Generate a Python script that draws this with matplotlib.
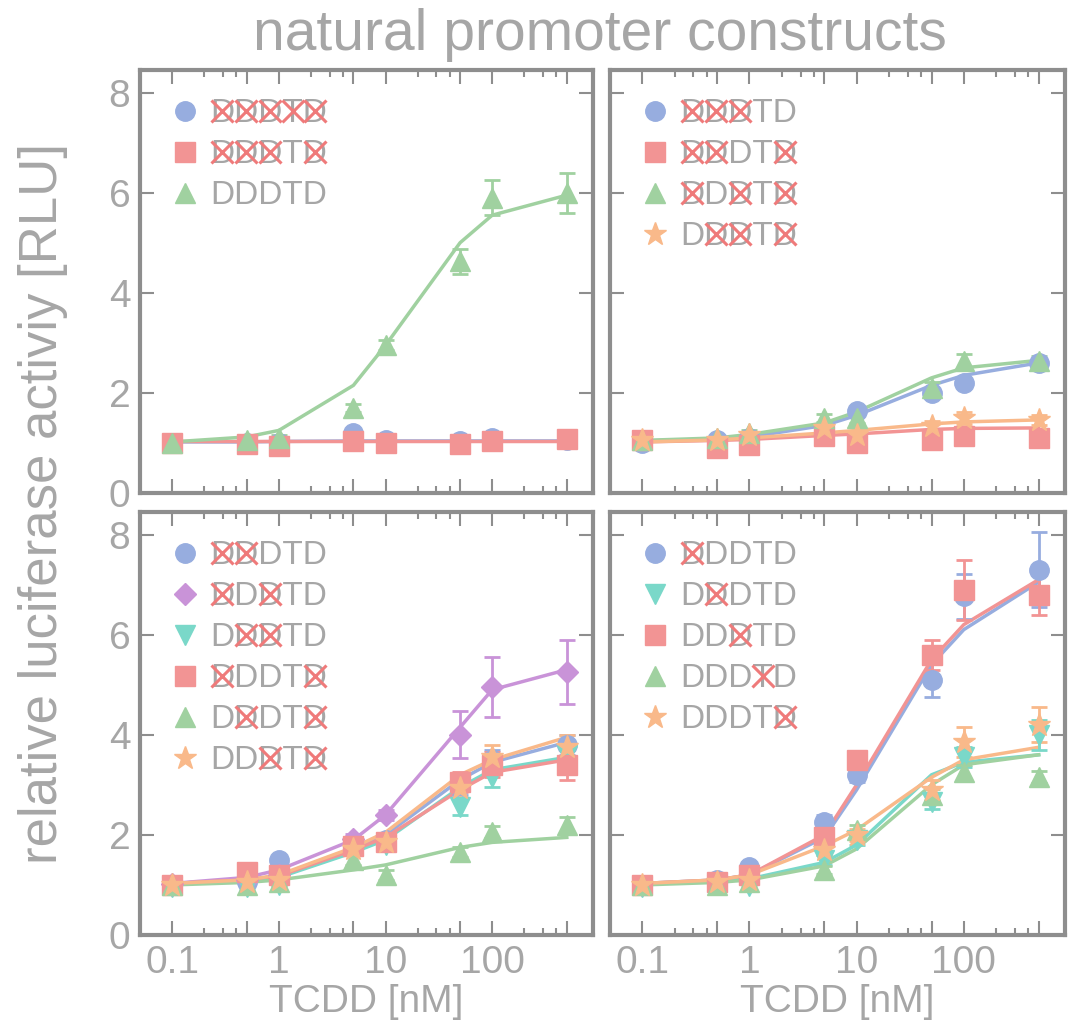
import numpy as np
import matplotlib
matplotlib.use('Agg')
import matplotlib.pyplot as plt
from matplotlib.lines import Line2D

plt.rcParams['font.family'] = ['Liberation Sans', 'DejaVu Sans']

# TCDD concentrations [nM]
x = [0.1, 0.5, 1, 5, 10, 50, 100, 500]

grey = '#a6a6a6'
frame = '#8e8e8e'
cblue = '#97addf'
cred = '#f29494'
cgreen = '#a0d1a0'
cpurple = '#c993d8'
ccyan = '#7ad8c9'
corange = '#f9b98a'
xred = '#ef7a7a'

# panel A (top left)
a_names = ['DDDTD', 'DDDTD', 'DDDTD']
a_mut = [[0, 1, 2, 3, 4], [0, 1, 2, 4], []]
a_marker = ['o', 's', '^']
a_color = [cblue, cred, cgreen]
a_mean = [[1.0, 1.0, 1.0, 1.2, 1.05, 1.03, 1.1, 1.05],
          [1.0, 0.97, 0.93, 1.03, 1.0, 0.98, 1.03, 1.08],
          [1.0, 1.05, 1.1, 1.7, 2.95, 4.63, 5.9, 6.0]]
a_err = [[0.03, 0.03, 0.03, 0.05, 0.04, 0.04, 0.05, 0.05],
         [0.03, 0.04, 0.04, 0.05, 0.04, 0.05, 0.05, 0.05],
         [0.03, 0.04, 0.05, 0.08, 0.1, 0.25, 0.35, 0.4]]
a_fit = [[1.02, 1.02, 1.03, 1.04, 1.04, 1.04, 1.04, 1.04],
         [1.03, 1.03, 1.03, 1.03, 1.03, 1.03, 1.03, 1.03],
         [1.02, 1.12, 1.25, 2.15, 2.95, 5.0, 5.55, 5.95]]

# panel B (top right)
b_names = ['DDDTD', 'DDDTD', 'DDDTD', 'DDDTD']
b_mut = [[0, 1, 2], [0, 1, 4], [0, 2, 4], [1, 2, 4]]
b_marker = ['o', 's', '^', '*']
b_color = [cblue, cred, cgreen, corange]
b_mean = [[1.0, 1.05, 1.1, 1.25, 1.63, 2.0, 2.19, 2.6],
          [1.05, 0.9, 0.96, 1.13, 1.0, 1.06, 1.13, 1.09],
          [1.06, 1.09, 1.2, 1.49, 1.49, 2.09, 2.63, 2.63],
          [1.05, 1.05, 1.15, 1.3, 1.15, 1.33, 1.49, 1.46]]
b_err = [[0.03, 0.04, 0.04, 0.06, 0.06, 0.08, 0.08, 0.08],
         [0.03, 0.05, 0.05, 0.06, 0.05, 0.08, 0.08, 0.07],
         [0.03, 0.05, 0.05, 0.08, 0.1, 0.12, 0.15, 0.1],
         [0.03, 0.05, 0.05, 0.08, 0.05, 0.1, 0.12, 0.1]]
b_fit = [[1.04, 1.08, 1.12, 1.35, 1.55, 2.15, 2.35, 2.6],
         [1.02, 1.05, 1.07, 1.15, 1.18, 1.27, 1.29, 1.3],
         [1.05, 1.1, 1.17, 1.4, 1.62, 2.3, 2.5, 2.65],
         [1.02, 1.06, 1.1, 1.2, 1.25, 1.38, 1.42, 1.46]]

# panel C (bottom left)
c_names = ['DDDTD', 'DDDTD', 'DDDTD', 'DDDTD', 'DDDTD', 'DDDTD']
c_mut = [[0, 1], [0, 2], [1, 2], [0, 4], [1, 4], [2, 4]]
c_marker = ['o', 'D', 'v', 's', '^', '*']
c_color = [cblue, cpurple, ccyan, cred, cgreen, corange]
c_mean = [[1.0, 1.05, 1.5, 1.8, 1.9, 3.0, 3.5, 3.8],
          [1.02, 1.1, 1.2, 1.92, 2.4, 4.0, 4.95, 5.25],
          [0.95, 0.95, 1.0, 1.7, 1.8, 2.55, 3.15, 3.6],
          [1.0, 1.25, 1.2, 1.78, 1.85, 3.05, 3.4, 3.4],
          [1.0, 1.0, 1.05, 1.5, 1.2, 1.65, 2.05, 2.2],
          [1.0, 1.05, 1.1, 1.72, 1.85, 2.93, 3.55, 3.75]]
c_err = [[0.03, 0.05, 0.05, 0.1, 0.1, 0.2, 0.2, 0.2],
         [0.03, 0.05, 0.05, 0.1, 0.1, 0.47, 0.6, 0.64],
         [0.03, 0.05, 0.05, 0.1, 0.1, 0.15, 0.2, 0.2],
         [0.03, 0.1, 0.06, 0.12, 0.12, 0.2, 0.25, 0.3],
         [0.03, 0.05, 0.05, 0.1, 0.1, 0.1, 0.12, 0.15],
         [0.03, 0.05, 0.05, 0.1, 0.12, 0.2, 0.25, 0.25]]
c_fit = [[1.03, 1.1, 1.18, 1.7, 2.0, 3.1, 3.45, 3.85],
         [1.03, 1.15, 1.3, 1.9, 2.4, 4.15, 4.9, 5.3],
         [1.03, 1.08, 1.15, 1.65, 1.9, 2.95, 3.3, 3.55],
         [1.03, 1.1, 1.18, 1.7, 1.95, 2.9, 3.25, 3.5],
         [1.0, 1.05, 1.1, 1.3, 1.4, 1.75, 1.85, 1.95],
         [1.03, 1.1, 1.2, 1.75, 2.05, 3.2, 3.5, 3.95]]

# panel D (bottom right)
d_names = ['DDDTD', 'DDDTD', 'DDDTD', 'DDDTD', 'DDDTD']
d_mut = [[0], [1], [2], [3], [4]]
d_marker = ['o', 'v', 's', '^', '*']
d_color = [cblue, ccyan, cred, cgreen, corange]
d_mean = [[1.0, 1.1, 1.35, 2.25, 3.2, 5.1, 6.77, 7.3],
          [0.95, 1.0, 0.98, 1.5, 1.9, 2.66, 3.55, 4.0],
          [1.0, 1.05, 1.2, 1.95, 3.5, 5.6, 6.9, 6.8],
          [1.0, 1.0, 1.05, 1.3, 2.1, 2.8, 3.25, 3.15],
          [1.0, 1.05, 1.1, 1.7, 2.0, 2.9, 3.85, 4.2]]
d_err = [[0.03, 0.05, 0.06, 0.15, 0.15, 0.35, 0.45, 0.75],
         [0.03, 0.05, 0.05, 0.1, 0.1, 0.15, 0.2, 0.3],
         [0.03, 0.05, 0.06, 0.15, 0.15, 0.3, 0.6, 0.4],
         [0.03, 0.05, 0.05, 0.08, 0.1, 0.12, 0.15, 0.12],
         [0.03, 0.05, 0.05, 0.1, 0.12, 0.2, 0.3, 0.35]]
d_fit = [[1.03, 1.1, 1.2, 1.95, 2.9, 5.4, 6.1, 7.05],
         [1.03, 1.08, 1.12, 1.45, 1.8, 3.2, 3.45, 3.6],
         [1.03, 1.1, 1.2, 2.0, 3.0, 5.5, 6.2, 7.1],
         [1.0, 1.05, 1.1, 1.38, 1.72, 3.0, 3.4, 3.6],
         [1.03, 1.1, 1.2, 1.78, 2.1, 3.15, 3.5, 3.75]]

xmajor = [0.1, 0.5, 1, 5, 10, 50, 100, 500]
xmajor_lbl = ['0.1', '', '1', '', '10', '', '100', '']
xminor = [0.2, 0.3, 0.4, 2, 3, 4, 20, 30, 40, 200, 300, 400]
yticks = [0, 2, 4, 6, 8]

W, H = 1077, 1027
fig = plt.figure(figsize=(W / 100, H / 100), dpi=100)
fig.patch.set_facecolor('white')

boxes = [(140, 70, 593, 493), (610, 70, 1065, 493),
         (140, 512, 593, 935), (610, 512, 1065, 935)]
panels = [(a_names, a_mut, a_marker, a_color, a_mean, a_err, a_fit),
          (b_names, b_mut, b_marker, b_color, b_mean, b_err, b_fit),
          (c_names, c_mut, c_marker, c_color, c_mean, c_err, c_fit),
          (d_names, d_mut, d_marker, d_color, d_mean, d_err, d_fit)]

legends = []
for k in range(4):
    x0, y0, x1, y1 = boxes[k]
    ax = fig.add_axes([x0 / W, 1 - y1 / H, (x1 - x0) / W, (y1 - y0) / H])
    names, mut, mk, col, mean, err, fit = panels[k]
    handles = []
    for i in range(len(names)):
        ms = 17 if mk[i] == '*' else 14
        if mk[i] == 'D':
            ms = 11
        ax.plot(x, fit[i], '-', color=col[i], lw=2.5, zorder=2)
        ax.errorbar(x, mean[i], yerr=err[i], fmt=mk[i], color=col[i], ms=ms,
                    mec=col[i], elinewidth=2, capsize=6, capthick=2, zorder=3)
        handles.append(Line2D([], [], marker=mk[i], color=col[i], ls='none', ms=ms))
    ax.set_xscale('log')
    ax.set_xlim(0.05, 880)
    ax.set_ylim(0, 8.45)
    ax.set_xticks(xmajor)
    ax.set_xticks(xminor, minor=True)
    ax.set_xticklabels(xmajor_lbl)
    ax.set_yticks(yticks)
    ax.tick_params(which='both', direction='in', top=True, right=True,
                   color=frame, width=1.5, labelsize=28, labelcolor=grey)
    ax.tick_params(which='major', length=10, pad=7)
    ax.tick_params(which='minor', length=5, labelbottom=False)
    ax.tick_params(axis='y', which='minor', left=False, right=False)
    for s in ax.spines.values():
        s.set_color(frame)
        s.set_linewidth(3)
    if k in (1, 3):
        ax.set_yticklabels([])
    if k in (0, 1):
        ax.set_xticklabels([])
    else:
        ax.set_xlabel('TCDD [nM]', fontsize=28, color=grey, labelpad=2)
    leg = ax.legend(handles, names, loc='upper left', frameon=False,
                    fontsize=24, handlelength=1.0, handletextpad=0.25,
                    labelspacing=0.3, borderaxespad=0.55, borderpad=0.3)
    for t in leg.get_texts():
        t.set_color(grey)
    legends.append((leg, mut))

fig.text(0.557, 0.966, 'natural promoter constructs', fontsize=41, color=grey,
         ha='center', va='center')
fig.text(0.040, 0.51, 'relative luciferase activiy [RLU]', fontsize=38, color=grey,
         ha='center', va='center', rotation=90)

# red crosses over the mutated elements of each construct name
fig.canvas.draw()
r = fig.canvas.get_renderer()
for leg, mut in legends:
    for t, m in zip(leg.get_texts(), mut):
        fp = t.get_fontproperties()
        bb = t.get_window_extent(r)
        s = t.get_text()
        lp_d = r.get_text_width_height_descent('lp', fp, ismath=False)[2]
        cap = r.get_text_width_height_descent('D', fp, ismath=False)[1]
        for j in m:
            w0 = r.get_text_width_height_descent(s[:j], fp, ismath=False)[0] if j else 0
            w1 = r.get_text_width_height_descent(s[:j + 1], fp, ismath=False)[0]
            cx = bb.x0 + (w0 + w1) / 2
            cy = bb.y0 + lp_d + cap / 2
            fig.add_artist(Line2D([cx / W], [cy / H], marker='x', ms=cap * 0.72,
                                  mew=2.2, color=xred, transform=fig.transFigure))

fig.savefig('out.png', dpi=100)
